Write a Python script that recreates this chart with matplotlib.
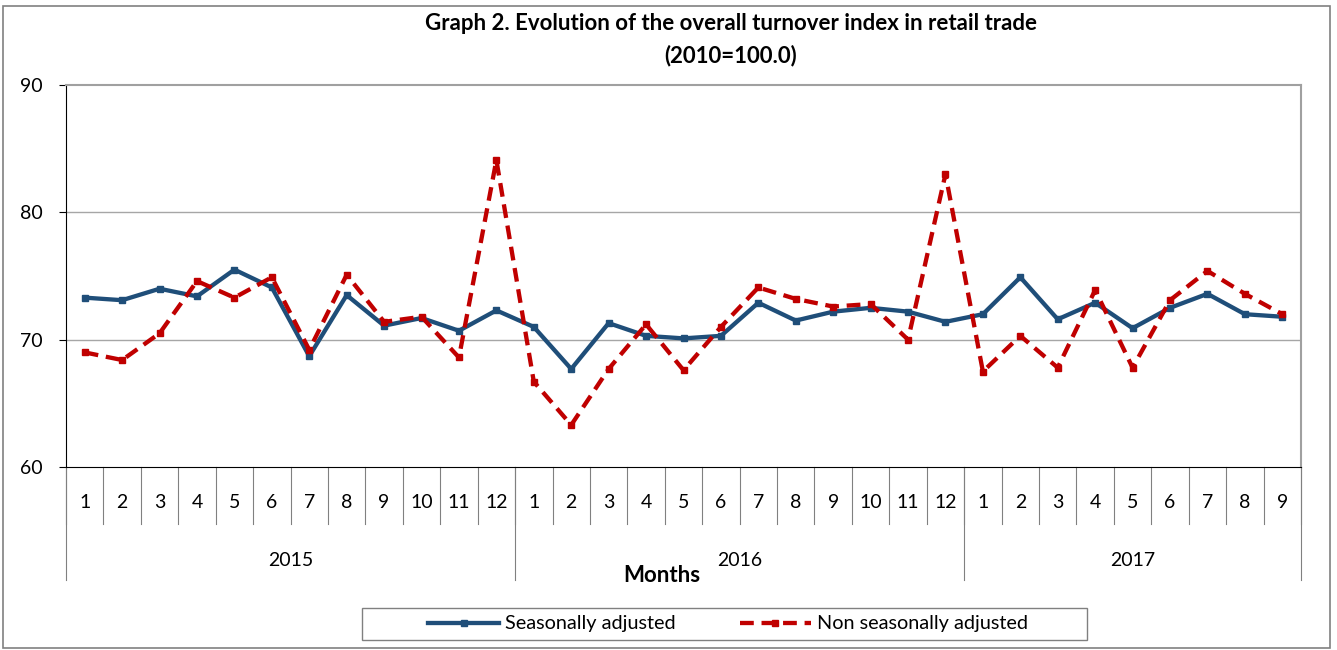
import numpy as np
import matplotlib
matplotlib.use("Agg")
import matplotlib.pyplot as plt
from matplotlib.patches import Rectangle
import matplotlib.transforms as mtransforms

plt.rcParams['font.family'] = ['Lato', 'DejaVu Sans']

years = ['2015', '2016', '2017']
months = [str(m) for m in range(1, 13)] * 2 + [str(m) for m in range(1, 10)]

seasonally_adjusted = [73.3, 73.1, 74.0, 73.4, 75.5, 74.1, 68.7, 73.5, 71.1, 71.7, 70.7, 72.3,
                       71.0, 67.7, 71.3, 70.3, 70.1, 70.3, 72.9, 71.5, 72.2, 72.5, 72.2, 71.4,
                       72.0, 74.9, 71.6, 72.9, 70.9, 72.5, 73.6, 72.0, 71.8]
non_seasonally_adjusted = [69.0, 68.4, 70.5, 74.6, 73.3, 74.9, 69.2, 75.1, 71.4, 71.8, 68.6, 84.1,
                           66.7, 63.3, 67.7, 71.2, 67.6, 71.0, 74.1, 73.2, 72.6, 72.8, 70.0, 83.0,
                           67.5, 70.3, 67.8, 73.9, 67.8, 73.1, 75.4, 73.6, 72.0]
year_lengths = [12, 12, 9]

W, H = 1337, 650
fig = plt.figure(figsize=(W / 100, H / 100), dpi=100)
ax = fig.add_axes([66 / W, 1 - 467 / H, (1301 - 66) / W, (467 - 85) / H])

x = np.arange(len(months))
blue = '#1f4e79'
red = '#c00000'
ax.plot(x, seasonally_adjusted, color=blue, lw=3.1, marker='s', ms=5,
        label='Seasonally adjusted', zorder=3)
ax.plot(x, non_seasonally_adjusted, color=red, lw=3.1, marker='s', ms=5,
        dashes=(3.2, 1.8), label='Non seasonally adjusted', zorder=4)

ax.set_xlim(-0.5, len(months) - 0.5)
ax.set_ylim(60, 90)
ax.set_yticks([60, 70, 80, 90])
ax.tick_params(axis='y', labelsize=14, length=5, direction='out', pad=12)
ax.set_xticks([])
for v in [70, 80]:
    ax.axhline(v, color='#a6a6a6', lw=1, zorder=1)

ax.spines['left'].set_color('black')
ax.spines['bottom'].set_color('black')
for s in ['top', 'right']:
    ax.spines[s].set_color('#a0a0a0')
    ax.spines[s].set_linewidth(1.5)

# category axis: months and years
trans = mtransforms.blended_transform_factory(ax.transData, ax.transAxes)
ah = (467 - 85)
month_sep = -(524 - 467) / ah
year_sep = -(580 - 467) / ah
for i, m in enumerate(months):
    ax.text(i, -(503 - 467) / ah, m, transform=trans, ha='center', va='center', fontsize=14)
for i in range(len(months) + 1):
    ax.plot([i - 0.5, i - 0.5], [0, month_sep], transform=trans, color='#808080',
            lw=0.8, clip_on=False)
start = 0
for yr, n in zip(years, year_lengths):
    ax.plot([start - 0.5, start - 0.5], [0, year_sep], transform=trans, color='#808080',
            lw=0.8, clip_on=False)
    ax.text(start + (n - 1) / 2, -(560 - 467) / ah, yr, transform=trans, ha='center',
            va='center', fontsize=14)
    start += n
ax.plot([start - 0.5, start - 0.5], [0, year_sep], transform=trans, color='#808080',
        lw=0.8, clip_on=False)

fig.text(662 / W, 1 - 575 / H, 'Months', ha='center', va='center', fontsize=16,
         fontweight='bold')
fig.text(731 / W, 1 - 24 / H, 'Graph 2. Evolution of the overall turnover index in retail trade',
         ha='center', va='center', fontsize=16, fontweight='bold')
fig.text(731 / W, 1 - 56 / H, '(2010=100.0)', ha='center', va='center', fontsize=16,
         fontweight='bold')

# legend box and outer frame
fig.patches.append(Rectangle((362 / W, 1 - 640 / H), (1087 - 362) / W, 32 / H,
                             transform=fig.transFigure, fill=False, ec='#808080', lw=1))
fig.patches.append(Rectangle((3 / W, 2 / H), (1330 - 3) / W, (646 - 4) / H,
                             transform=fig.transFigure, fill=False, ec='#808080', lw=1.2))
fig.legend(loc='center', bbox_to_anchor=(728 / W, 1 - 624 / H), ncol=2, frameon=False,
           fontsize=14.3, handlelength=3.6, columnspacing=3.2, handletextpad=0.3)

fig.savefig('out.png', dpi=100)
